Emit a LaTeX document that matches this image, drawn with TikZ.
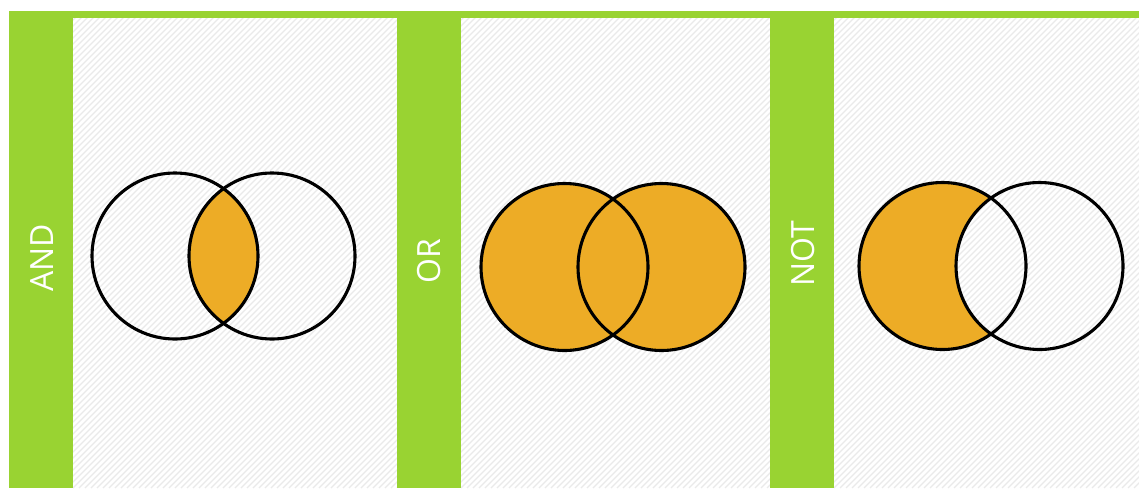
\documentclass[tikz,border=0pt]{standalone}
\usepackage{fontspec}
\setmainfont{Open Sans}
\definecolor{barGreen}{RGB}{153,211,50}
\definecolor{vennOrange}{RGB}{237,172,38}
\definecolor{stripeGray}{RGB}{234,234,234}
\tikzset{
  panel/.style={fill=white},
  greenbar/.style={fill=barGreen},
  venn/.style={draw=black, line width=3.1pt},
  shade/.style={fill=vennOrange},
  lbl/.style={text=white, font=\fontsize{32}{32}\selectfont, rotate=90, inner sep=0pt}
}
\begin{document}
\begin{tikzpicture}[x=1pt,y=-1pt]
\useasboundingbox (0,0) rectangle (1139,488);
\fill[white] (0,0) rectangle (1139,488);
% panels with faint stripes
\foreach \a/\b in {73/397, 461/770, 834/1139}{
  \fill[panel] (\a,18) rectangle (\b,488);
  \begin{scope}
    \clip (\a,18) rectangle (\b,488);
    \foreach \k in {0,6,...,1700}{
      \draw[stripeGray, line width=1.3pt] (\a+\k-480,488) -- (\a+\k,8);
    }
  \end{scope}
}
% green bars
\fill[greenbar] (9,11) rectangle (1139,18);
\fill[greenbar] (9,11) rectangle (73,488);
\fill[greenbar] (397,11) rectangle (461,488);
\fill[greenbar] (770,11) rectangle (834,488);
% labels
\node[lbl] (andlbl) at (42,258) {AND};
\node[lbl] (orlbl) at (429,261) {OR};
\node[lbl] (notlbl) at (803,254) {NOT};
% AND
\begin{scope}
  \clip (175,256) circle (83);
  \fill[shade] (272,256) circle (83);
\end{scope}
\draw[venn] (175,256) circle (83);
\draw[venn] (272,256) circle (83);
% OR
\fill[shade] (564.5,267) circle (83.5);
\fill[shade] (661.5,267) circle (83.5);
\draw[venn] (564.5,267) circle (83.5);
\draw[venn] (661.5,267) circle (83.5);
% NOT
\begin{scope}
  \clip (942.5,266) circle (83.5);
  \fill[shade, even odd rule] (942.5,266) circle (83.5) (1039.5,266) circle (83.5);
\end{scope}
\draw[venn] (942.5,266) circle (83.5);
\draw[venn] (1039.5,266) circle (83.5);
\end{tikzpicture}
\end{document}
